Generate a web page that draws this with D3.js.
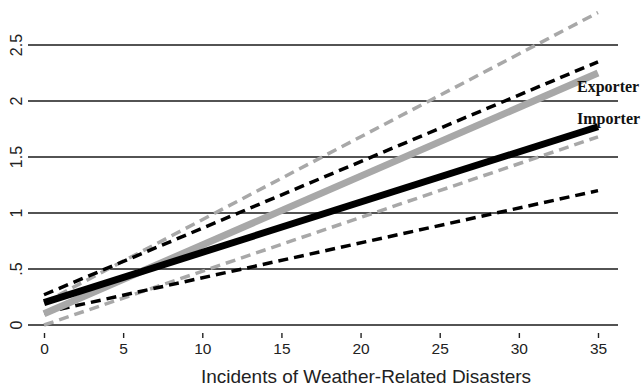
<!DOCTYPE html>
<html><head><meta charset="utf-8">
<script src="https://cdn.jsdelivr.net/npm/d3@7"></script>
<style>body{margin:0;background:#fff}svg{display:block}</style>
</head><body>
<svg id="c" width="641" height="386"></svg>
<script>
const xEnds = [0, 35];
const exporterFit = [0.10, 2.25];
const exporterUpper = [0.20, 2.79];
const exporterLower = [0.00, 1.68];
const importerFit = [0.20, 1.77];
const importerUpper = [0.27, 2.35];
const importerLower = [0.11, 1.20];
const xTicks = [0, 5, 10, 15, 20, 25, 30, 35];
const yTicks = [0, 0.5, 1, 1.5, 2, 2.5];
const yTickLabels = ["0", ".5", "1", "1.5", "2", "2.5"];
const seriesLabels = ["Exporter", "Importer"];
const xTitle = "Incidents of Weather-Related Disasters";

const svg = d3.select("#c");
const x = d3.scaleLinear().domain([0, 35]).range([44, 598]);
const y = d3.scaleLinear().domain([0, 2.5]).range([325, 45]);

// gridlines
svg.append("g").selectAll("line").data(yTicks).join("line")
  .attr("x1", 28).attr("x2", 618)
  .attr("y1", d => y(d)).attr("y2", d => y(d))
  .attr("stroke", "#1a1a1a").attr("stroke-width", 1.5);

// y labels
svg.append("g").selectAll("text").data(yTicks).join("text")
  .attr("transform", d => `translate(22,${y(d)}) rotate(-90)`)
  .attr("text-anchor", "middle")
  .attr("font-family", "Liberation Sans, Arial, sans-serif")
  .attr("font-size", 16).attr("fill", "#222")
  .text((d, i) => yTickLabels[i]);

// x axis ticks
const xa = d3.axisBottom(x).tickValues(xTicks).tickSize(5).tickPadding(5).tickFormat(d3.format("d"));
const gx = svg.append("g").attr("transform", "translate(0,333)").call(xa);
gx.select(".domain").remove();
gx.selectAll(".tick line").attr("stroke", "#222").attr("stroke-width", 1.4);
gx.selectAll(".tick text").attr("font-family", "Liberation Sans, Arial, sans-serif")
  .attr("font-size", 15.5).attr("fill", "#222");

svg.append("text").attr("x", 366).attr("y", 383).attr("text-anchor", "middle")
  .attr("font-family", "Liberation Sans, Arial, sans-serif")
  .attr("font-size", 19).attr("fill", "#222").text(xTitle);

const line = d3.line().x((d, i) => x(xEnds[i])).y(d => y(d));
const gray = "#a8a8a8";
function draw(vals, color, w, dash) {
  svg.append("path").datum(vals).attr("d", line)
    .attr("fill", "none").attr("stroke", color).attr("stroke-width", w)
    .attr("stroke-dasharray", dash || null);
}
draw(exporterUpper, gray, 3.5, "10,6");
draw(exporterLower, gray, 3.5, "10,6");
draw(importerUpper, "#000", 3.5, "10,6");
draw(importerLower, "#000", 3.5, "10,6");
draw(exporterFit, gray, 7);
draw(importerFit, "#000", 7);

svg.append("g").selectAll("text").data(seriesLabels).join("text")
  .attr("x", 577).attr("y", (d, i) => i === 0 ? 92 : 124)
  .attr("font-family", "Liberation Serif, Times New Roman, serif")
  .attr("font-weight", "bold").attr("font-size", 16).attr("fill", "#111")
  .text(d => d);
</script>
</body></html>
